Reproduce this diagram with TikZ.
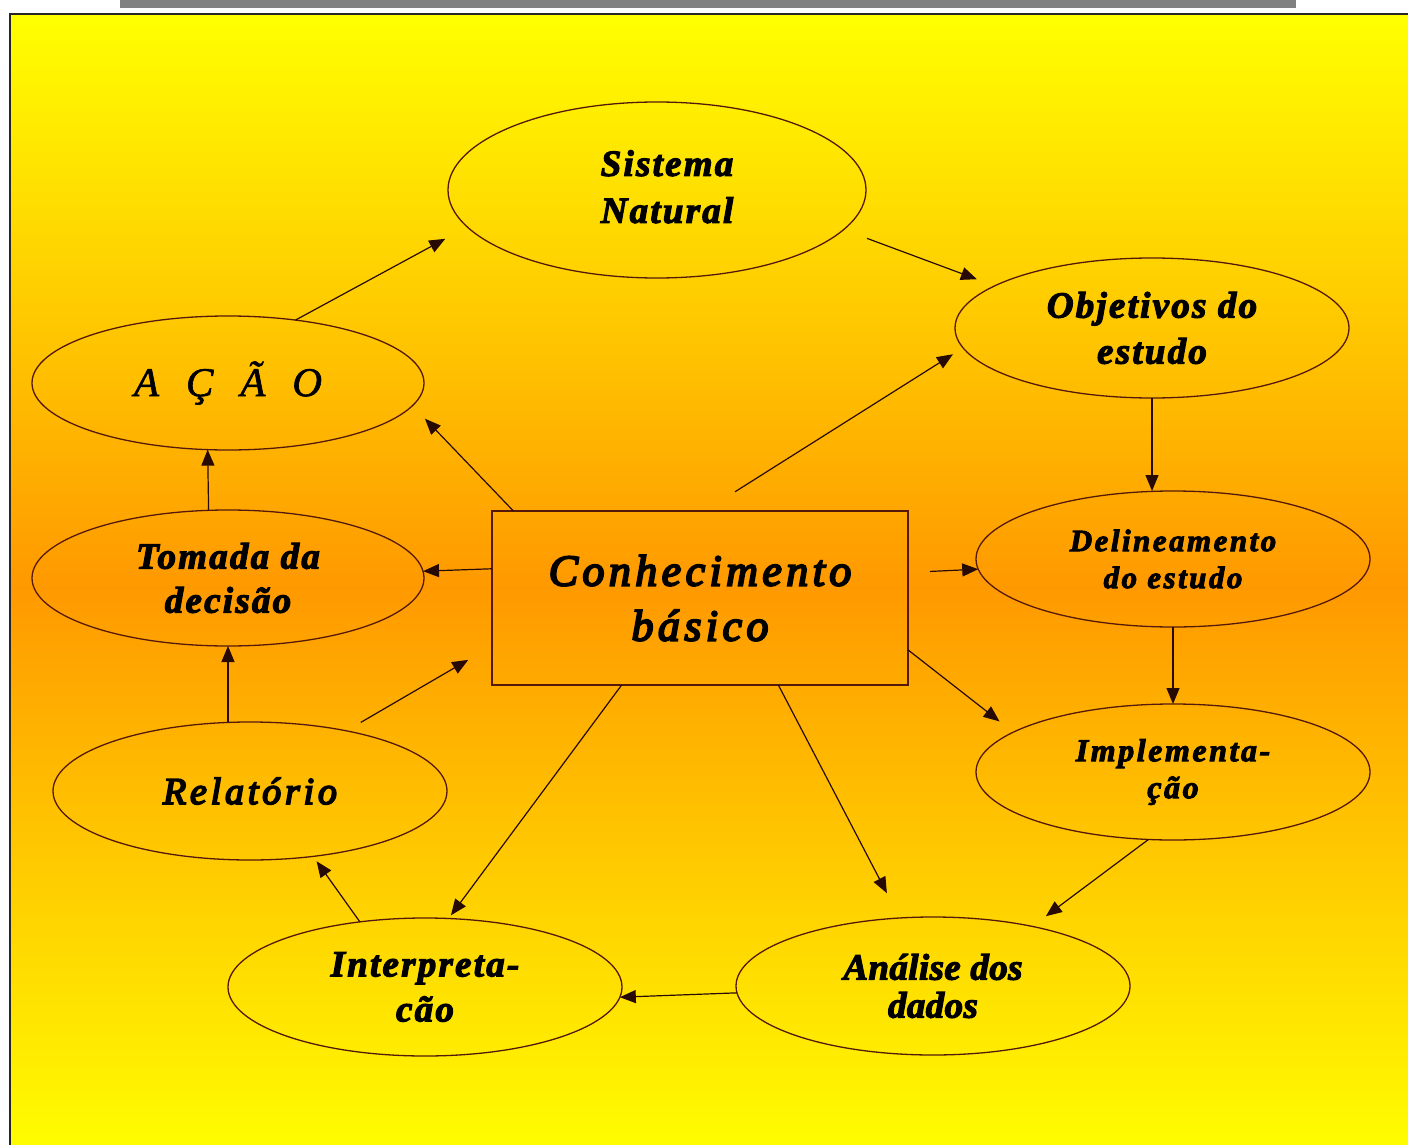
\documentclass[tikz,border=0pt]{standalone}
\usepackage{fontspec}
\setmainfont{Liberation Serif}
\newfontfamily\fB[LetterSpace=6,FakeBold=3]{Liberation Serif}
\newfontfamily\fBa[LetterSpace=1,FakeBold=3]{Liberation Serif}
\newfontfamily\fBd[LetterSpace=8,FakeBold=3]{Liberation Serif}
\newfontfamily\fMed[LetterSpace=10,FakeBold=4.5]{Liberation Serif}
\newfontfamily\fAcao[FakeBold=1.5]{Liberation Serif}
\usetikzlibrary{shapes.geometric,arrows.meta}
\definecolor{bgY}{RGB}{255,255,0}
\definecolor{bgO}{RGB}{255,153,0}
\definecolor{edgeC}{RGB}{85,25,10}
\definecolor{lineC}{RGB}{40,10,5}
\definecolor{barG}{RGB}{128,128,128}
\begin{document}
\begin{tikzpicture}[x=1pt,y=-1pt,
  ell/.style={ellipse, draw=edgeC, line width=1.3pt, inner sep=0pt, outer sep=0pt,
              minimum width=394pt, minimum height=137pt, align=center, text=black},
  boxst/.style={rectangle, draw=edgeC, line width=1.8pt, inner sep=0pt, outer sep=0pt, align=center},
  arr/.style={draw=lineC, line width=1.2pt, -{Triangle[length=16pt,width=13pt]}}
]
\useasboundingbox (0,0) rectangle (1408,1145);
\fill[white] (0,0) rectangle (1408,1145);
\fill[barG] (120,0) rectangle (1296,8);
\shade[top color=bgY, bottom color=bgY, middle color=bgO] (10,14) rectangle (1420,1160);
\draw[line width=2pt, black!85] (10,1160) -- (10,14) -- (1420,14);

% nodes
\node[ell, minimum width=418pt, minimum height=176pt,
      font=\fB\bfseries\itshape\fontsize{37}{47}\selectfont] (sis) at (657,190)
  {\kern20pt\begin{tabular}{@{}c@{}}Sistema\\Natural\end{tabular}};
\node[ell, minimum height=140pt, font=\fB\bfseries\itshape\fontsize{37}{46}\selectfont] (obj) at (1152,328) {Objetivos do\\estudo};
\node[ell, minimum width=392pt, minimum height=134pt,
      font=\fAcao\itshape\fontsize{41}{48}\selectfont] (acao) at (228,383) {\spaceskip=27pt\relax A Ç Ã O};
\node[ell, minimum width=392pt, minimum height=136pt,
      font=\fB\bfseries\itshape\fontsize{37}{44}\selectfont] (tom) at (228,578) {Tomada da\\decisão};
\node[boxst, minimum width=416pt, minimum height=174pt,
      font=\fMed\itshape\fontsize{44}{55}\selectfont] (box) at (700,598) {Conhecimento\\básico};
\node[ell, minimum height=136pt, font=\fBd\bfseries\itshape\fontsize{31}{37}\selectfont] (del) at (1173,559) {Delineamento\\do estudo};
\node[ell, minimum height=138pt, font=\fMed\itshape\fontsize{38}{46}\selectfont] (rel) at (250,791) {Relatório};
\node[ell, minimum height=136pt, font=\fBd\bfseries\itshape\fontsize{32}{37}\selectfont] (imp) at (1173,772) {Implementa-\\ção};
\node[ell, minimum height=138pt, font=\fB\bfseries\itshape\fontsize{37}{45}\selectfont] (int) at (425,987) {Interpreta-\\cão};
\node[ell, minimum height=138pt, font=\fBa\bfseries\itshape\fontsize{37}{38}\selectfont] (ana) at (933,986) {Análise dos\\dados};

% connectors
\draw[arr, shorten >=25pt] (acao.43.7) -- (sis.191.5);
\draw[arr, shorten <=25pt, shorten >=19pt] (sis.-12.5) -- (obj.165.4);
\draw[arr] (obj.south) -- (obj.south |- del.north);
\draw[arr] (del.south) -- (imp.north);
\draw[arr, shorten >=17pt] (imp.250.3) -- (ana.31.4);
\draw[arr] (ana.182.94) -- (int.357.06);
\draw[arr, shorten >=6pt] (int.135) -- (rel.314.4);
\draw[arr] (tom.south |- rel.north) -- (tom.south);
\draw[arr] (tom.106.5) -- (acao.253.3);
\draw[arr] (box.172.3) -- (tom.2.35);
\draw[arr, shorten >=18pt] (box.155.2) -- (acao.353.9);
\draw[arr, shorten <=36pt, shorten >=12pt] (box.87.4) -- (obj.186.9);
\draw[arr, shorten <=22pt] (box.7.67) -- (del.183.2);
\draw[arr, shorten >=17.5pt] (box.346.5) -- (imp.166.5);
\draw[arr, shorten >=28pt] (box.312.6) -- (ana.116.8);
\draw[arr, shorten >=4pt] (box.228.1) -- (int.71.9);
\draw[arr, shorten <=16.7pt, shorten >=27.5pt] (rel.32.1) -- (box.193.96);
\end{tikzpicture}
\end{document}
